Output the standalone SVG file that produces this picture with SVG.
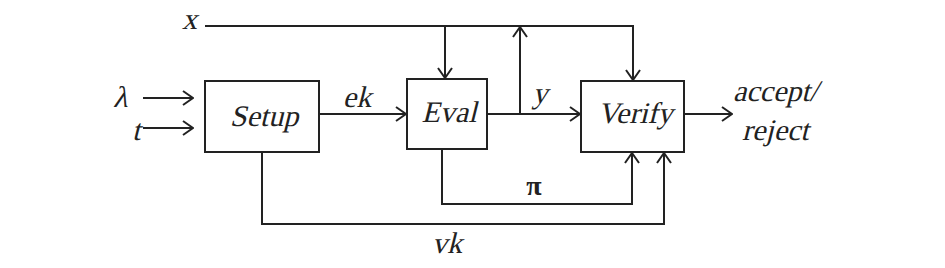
<svg xmlns="http://www.w3.org/2000/svg" width="945" height="268" viewBox="0 0 945 268">
<defs>
<marker id="ah" viewBox="0 0 12 16" refX="11" refY="8" markerWidth="12" markerHeight="16" markerUnits="userSpaceOnUse" orient="auto">
<path d="M1,1 L11,8 L1,15" fill="none" stroke="#222" stroke-width="2"/>
</marker>
</defs>
<g id="connectors" fill="none" stroke="#222" stroke-width="2">
<path d="M205,26 H633 V80" marker-end="url(#ah)"/>
<path d="M445,26 V78" marker-end="url(#ah)"/>
<path d="M143,98 H193" marker-end="url(#ah)"/>
<path d="M143,128 H193" marker-end="url(#ah)"/>
<path d="M319,114 H406" marker-end="url(#ah)"/>
<path d="M487,114 H580" marker-end="url(#ah)"/>
<path d="M520,114 V27" marker-end="url(#ah)"/>
<path d="M684,114 H732" marker-end="url(#ah)"/>
<path d="M442,149 V204 H632 V153" marker-end="url(#ah)"/>
<path d="M262,152 V224 H664 V153" marker-end="url(#ah)"/>
</g>
<g id="labels" font-family="Liberation Serif, Times New Roman, serif" font-size="30" fill="#222">
<text transform="translate(182,29) skewX(-14)">x</text>
<text transform="translate(113,107) skewX(-14)">λ</text>
<text transform="translate(132,140) skewX(-14)">t</text>
<text transform="translate(357,107) skewX(-14)" text-anchor="middle">ek</text>
<text transform="translate(540,103) skewX(-14)" text-anchor="middle">y</text>
<text x="534" y="195" text-anchor="middle" font-weight="bold" font-size="28">π</text>
<text transform="translate(447,253) skewX(-14)" text-anchor="middle">vk</text>
<text transform="translate(733,101) skewX(-14)">accept/</text>
<text transform="translate(742,140) skewX(-14)">reject</text>
</g>
<g id="setup">
<rect x="205" y="81" width="114" height="71" fill="#fff" stroke="#222" stroke-width="2"/>
<text transform="translate(264,126) skewX(-14)" text-anchor="middle" font-family="Liberation Serif, Times New Roman, serif" font-size="30" fill="#222">Setup</text>
</g>
<g id="eval">
<rect x="407" y="79" width="80" height="70" fill="#fff" stroke="#222" stroke-width="2"/>
<text transform="translate(449,122) skewX(-14)" text-anchor="middle" font-family="Liberation Serif, Times New Roman, serif" font-size="30" fill="#222">Eval</text>
</g>
<g id="verify">
<rect x="581" y="81" width="103" height="71" fill="#fff" stroke="#222" stroke-width="2"/>
<text transform="translate(635,123) skewX(-14)" text-anchor="middle" font-family="Liberation Serif, Times New Roman, serif" font-size="30" fill="#222">Verify</text>
</g>
</svg>
